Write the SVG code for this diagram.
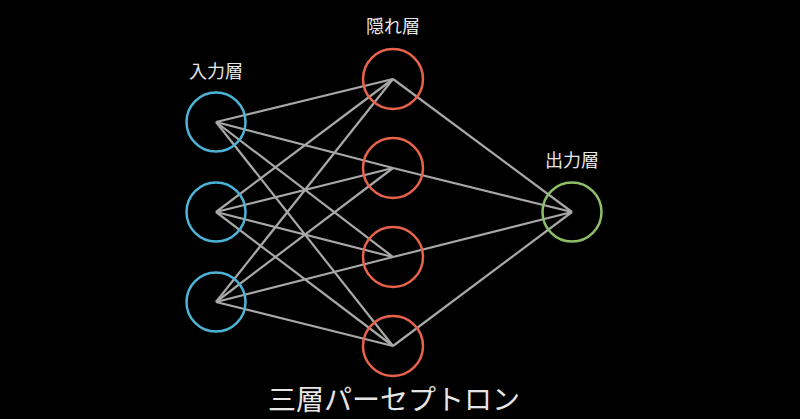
<svg xmlns="http://www.w3.org/2000/svg" width="800" height="419" viewBox="0 0 800 419">
<style>
.edge{stroke:#a8a8a8;stroke-width:2.2;fill:none}
.node{fill:none;stroke-width:2.5}
.in{stroke:#4cb4d6}
.hid{stroke:#e8624c}
.out{stroke:#8dbf6b}
.lbl{font-family:"Noto Sans CJK JP","Noto Sans CJK SC",sans-serif;fill:#e6e6e6;text-anchor:middle}
</style>
<rect width="800" height="419" fill="#000"/>
<g id="connectors">
<line class="edge" x1="216" y1="122" x2="393" y2="79"/>
<line class="edge" x1="216" y1="122" x2="393" y2="168"/>
<line class="edge" x1="216" y1="122" x2="393" y2="257"/>
<line class="edge" x1="216" y1="122" x2="393" y2="346"/>
<line class="edge" x1="216" y1="212" x2="393" y2="79"/>
<line class="edge" x1="216" y1="212" x2="393" y2="168"/>
<line class="edge" x1="216" y1="212" x2="393" y2="257"/>
<line class="edge" x1="216" y1="212" x2="393" y2="346"/>
<line class="edge" x1="216" y1="302" x2="393" y2="79"/>
<line class="edge" x1="216" y1="302" x2="393" y2="168"/>
<line class="edge" x1="216" y1="302" x2="393" y2="257"/>
<line class="edge" x1="216" y1="302" x2="393" y2="346"/>
<line class="edge" x1="393" y1="79" x2="572" y2="212"/>
<line class="edge" x1="393" y1="168" x2="572" y2="212"/>
<line class="edge" x1="393" y1="257" x2="572" y2="212"/>
<line class="edge" x1="393" y1="346" x2="572" y2="212"/>
</g>
<g id="in1"><circle class="node in" cx="216" cy="122" r="29.5"/></g>
<g id="in2"><circle class="node in" cx="216" cy="212" r="29.5"/></g>
<g id="in3"><circle class="node in" cx="216" cy="302" r="29.5"/></g>
<g id="hid1"><circle class="node hid" cx="393" cy="79" r="30"/></g>
<g id="hid2"><circle class="node hid" cx="393" cy="168" r="30"/></g>
<g id="hid3"><circle class="node hid" cx="393" cy="257" r="30"/></g>
<g id="hid4"><circle class="node hid" cx="393" cy="346" r="30"/></g>
<g id="out1"><circle class="node out" cx="572" cy="212" r="29.5"/></g>
<g id="labels">
<text class="lbl" x="216" y="78" font-size="18">入力層</text>
<text class="lbl" x="393" y="33" font-size="18">隠れ層</text>
<text class="lbl" x="572" y="167" font-size="18">出力層</text>
<text class="lbl" x="394" y="410" font-size="28">三層パーセプトロン</text>
</g>
</svg>
